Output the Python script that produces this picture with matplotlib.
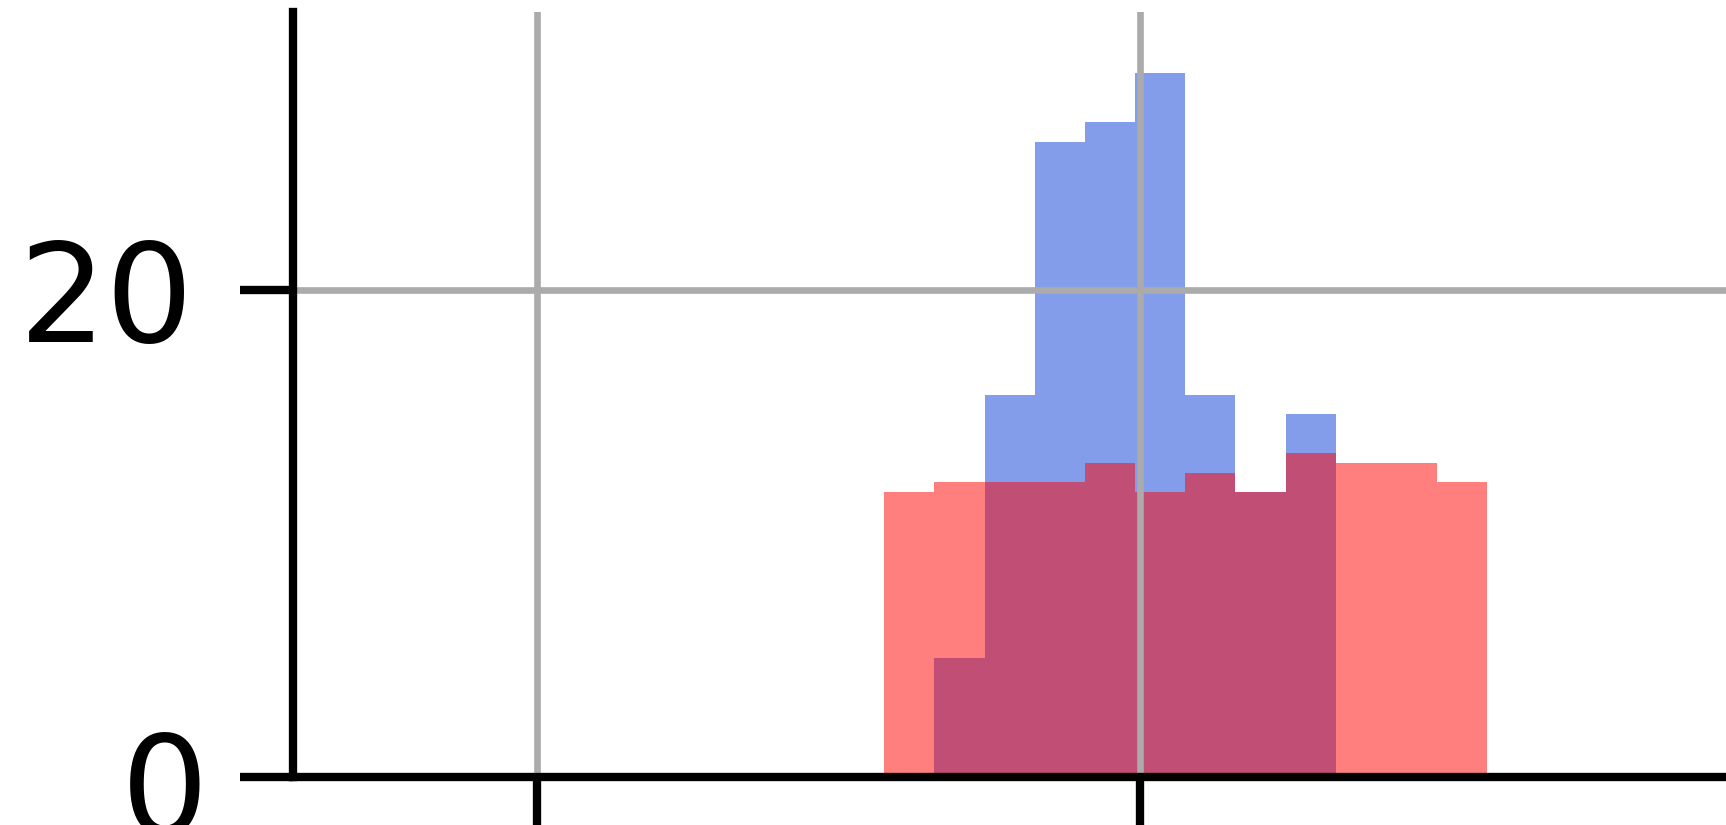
# Overlaid histograms (cropped, zoomed view)

import numpy as np
import matplotlib.pyplot as plt
import matplotlib.transforms as mtransforms

# Bin edges shared by both series
bin_edges = [-0.425, -0.342, -0.258, -0.175, -0.092, -0.008,
             0.075, 0.158, 0.242, 0.325, 0.408, 0.492, 0.575]

# Bin heights
blue_counts = [0, 4.9, 15.7, 26.1, 26.9, 28.9, 15.7, 11.7, 14.9, 0, 0, 0]
red_counts = [11.7, 12.1, 12.1, 12.1, 12.9, 11.7, 12.5, 11.7, 13.3, 12.9, 12.9, 12.1]

x_ticks = [-1, 0, 1]
y_ticks = [0, 20]

edges = np.array(bin_edges)
lefts = edges[:-1]
widths = np.diff(edges)

fig = plt.figure(figsize=(17.26, 8.25), dpi=100)
# axes extends past the right edge of the figure, like a cropped screenshot
ax = fig.add_axes([293 / 1726, 48 / 825, 2.905 * 603 / 1726, 765 / 825])

ax.bar(lefts, blue_counts, width=widths, align='edge', color='royalblue', alpha=0.65, linewidth=0)
ax.bar(lefts, red_counts, width=widths, align='edge', color='red', alpha=0.5, linewidth=0)

ax.set_xlim(-1.405, 1.5)
ax.set_ylim(0, 31.42)
ax.set_xticks(x_ticks)
ax.set_yticks(y_ticks)
ax.set_xticklabels([])

ax.grid(True, color='#ababab', linewidth=4.8)
ax.spines['top'].set_visible(False)
ax.spines['right'].set_visible(False)
for s in ['left', 'bottom']:
    ax.spines[s].set_linewidth(6.0)

ax.tick_params(axis='both', length=38, width=6.0, pad=33, labelsize=99)

# the "0" label sits a little to the right and lower in the reference
zero_lbl = ax.get_yticklabels()[0]
zero_lbl.set_transform(zero_lbl.get_transform() + mtransforms.ScaledTranslation(14 / 100, -5 / 100, fig.dpi_scale_trans))

fig.savefig('out.png', dpi=100)
